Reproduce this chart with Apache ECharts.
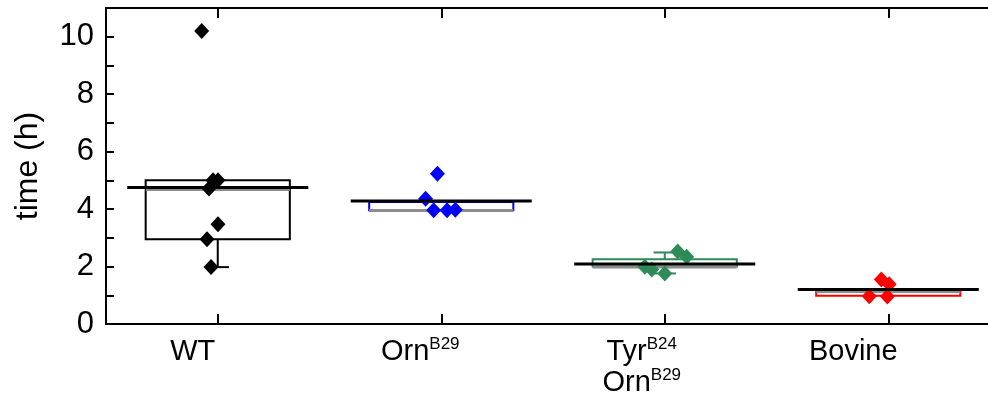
<!DOCTYPE html>
<html>
<head>
<meta charset="utf-8">
<script src="https://cdn.jsdelivr.net/npm/echarts@6/dist/echarts.min.js"></script>
<style>
html,body{margin:0;padding:0;background:#fff;}
#chart{width:988px;height:395px;}
</style>
</head>
<body>
<div id="chart"></div>
<script>
// ---- data ----
var categories = ['WT', 'Orn^B29', 'Tyr^B24\nOrn^B29', 'Bovine'];
var yTicks = [0, 2, 4, 6, 8, 10];

var wtValues     = [10.2, 5.0, 5.0, 4.72, 3.47, 2.95, 1.98];
var wtJitter     = [-0.072, -0.021, 0.001, -0.039, 0.001, -0.048, -0.030];
var ornValues    = [5.23, 4.36, 3.96, 3.96, 3.98];
var ornJitter    = [-0.017, -0.070, -0.034, 0.026, 0.063];
var tyrValues    = [2.52, 2.34, 1.99, 1.90, 1.76];
var tyrJitter    = [0.058, 0.098, -0.089, -0.058, 0.0];
var bovValues    = [1.55, 1.38, 0.97, 0.96];
var bovJitter    = [-0.031, 0.004, -0.085, -0.004];

// box stats: [whiskerLow, Q1, median, Q3, whiskerHigh]
var wtBox  = [1.98, 2.95, 4.72, 5.0, 5.0];
var ornBox = [3.96, 3.96, 3.99, 4.25, 4.25];
var tyrBox = [1.76, 2.0, 2.02, 2.25, 2.49];
var bovBox = [0.98, 0.98, 1.17, 1.18, 1.18];
var meanValues = [4.75, 4.28, 2.09, 1.2];

var groupColors = ['#000000', '#0000ff', '#2e8b57', '#ff0000'];
// label left-shift (px) per category, style only
var labelShift = [25, 21, 23, 35];

// ---- build ----
var FONT = 'Liberation Sans, Arial, sans-serif';
var groups = [
  {v: wtValues, j: wtJitter, b: wtBox},
  {v: ornValues, j: ornJitter, b: ornBox},
  {v: tyrValues, j: tyrJitter, b: tyrBox},
  {v: bovValues, j: bovJitter, b: bovBox}
];

var richStyles = {
  n: {fontSize: 29, lineHeight: 31, color: '#000', fontFamily: FONT},
  s: {fontSize: 17, lineHeight: 21, verticalAlign: 'top', color: '#000', fontFamily: FONT}
};
labelShift.forEach(function (sh, i) {
  richStyles['p' + i] = {width: sh * 2, fontSize: 10, lineHeight: 31};
});

function richLabel(s, idx) {
  return s.split('\n').map(function (line) {
    var parts = line.split('^');
    var out = '{n|' + parts[0] + '}';
    if (parts[1]) out += '{s|' + parts[1] + '}';
    out += '{p' + idx + '| }';
    return out;
  }).join('\n');
}

var boxData = groups.map(function (g, i) { return [i].concat(g.b); });
var meanData = meanValues.map(function (m, i) { return [i, m]; });

var scatterSeries = groups.map(function (g, i) {
  return {
    type: 'scatter',
    xAxisIndex: 2,
    symbol: 'diamond',
    symbolSize: [15, 16],
    itemStyle: {color: groupColors[i], opacity: 1},
    z: 3,
    silent: true,
    data: g.v.map(function (v, k) { return [i + g.j[k], v]; })
  };
});

var BOX_W = 0.645;
var CAP_W = 0.1;
var MEAN_W = 0.81;

function tickStyle(c) { return {show: true, inside: true, alignWithLabel: true, interval: 0, length: 10, lineStyle: {color: c, width: 2}}; }

var chart = echarts.init(document.getElementById('chart'), null, {renderer: 'canvas'});
var option = {
  animation: false,
  backgroundColor: '#ffffff',
  textStyle: {fontFamily: FONT},
  grid: {left: 106, top: 8, right: -12, bottom: 71, containLabel: false, outerBoundsMode: 'none'},
  xAxis: [
    {
      type: 'category',
      data: categories,
      position: 'bottom',
      z: 5,
      axisLine: {show: true, onZero: false, lineStyle: {color: '#000', width: 2}},
      axisTick: tickStyle('#000'),
      axisLabel: {
        margin: 12,
        interval: 0,
        color: '#000',
        formatter: function (v, idx) { return richLabel(v, idx); },
        rich: richStyles
      },
      splitLine: {show: false}
    },
    {
      type: 'category',
      data: categories,
      position: 'top',
      z: 5,
      axisLine: {show: true, onZero: false, lineStyle: {color: '#000', width: 2}},
      axisTick: tickStyle('#000'),
      axisLabel: {show: false},
      splitLine: {show: false}
    },
    {
      type: 'value',
      min: -0.5,
      max: 3.5,
      show: false
    }
  ],
  yAxis: {
    type: 'value',
    min: 0,
    max: 11,
    interval: 1,
    z: 5,
    name: 'time (h)',
    nameLocation: 'middle',
    nameGap: 62,
    nameTextStyle: {fontSize: 32, color: '#000', fontFamily: FONT},
    axisLine: {show: true, onZero: false, lineStyle: {color: '#000', width: 2}},
    axisTick: {show: true, inside: true, length: 8, lineStyle: {color: '#000', width: 2}},
    axisLabel: {
      fontSize: 31,
      color: '#000',
      margin: 12,
      formatter: function (v) { return yTicks.indexOf(v) >= 0 ? String(v) : ''; }
    },
    splitLine: {show: false}
  },
  series: [
    {
      type: 'custom',
      xAxisIndex: 2,
      z: 2,
      silent: true,
      data: boxData,
      renderItem: function (params, api) {
        var x = api.value(0);
        var col = groupColors[params.dataIndex];
        var wl = api.coord([x, api.value(1)]);
        var q1 = api.coord([x, api.value(2)]);
        var md = api.coord([x, api.value(3)]);
        var q3 = api.coord([x, api.value(4)]);
        var wh = api.coord([x, api.value(5)]);
        var bw = api.size([BOX_W, 0])[0];
        var cw = api.size([CAP_W, 0])[0];
        var cx = q1[0];
        var children = [];
        if (wl[1] > q1[1] + 0.5) {
          children.push({type: 'line', shape: {x1: cx, y1: q1[1], x2: cx, y2: wl[1]}, style: {stroke: col, lineWidth: 2}});
          children.push({type: 'line', shape: {x1: cx - cw / 2, y1: wl[1], x2: cx + cw / 2, y2: wl[1]}, style: {stroke: col, lineWidth: 2}});
        }
        if (wh[1] < q3[1] - 0.5) {
          children.push({type: 'line', shape: {x1: cx, y1: q3[1], x2: cx, y2: wh[1]}, style: {stroke: col, lineWidth: 2}});
          children.push({type: 'line', shape: {x1: cx - cw / 2, y1: wh[1], x2: cx + cw / 2, y2: wh[1]}, style: {stroke: col, lineWidth: 2}});
        }
        children.push({
          type: 'rect',
          shape: {x: cx - bw / 2, y: q3[1], width: bw, height: q1[1] - q3[1]},
          style: {fill: 'none', stroke: col, lineWidth: 2}
        });
        children.push({
          type: 'line',
          shape: {x1: cx - bw / 2, y1: md[1] + 1, x2: cx + bw / 2, y2: md[1] + 1},
          style: {stroke: '#8c8c8c', lineWidth: 3}
        });
        return {type: 'group', children: children};
      }
    }
  ].concat(scatterSeries).concat([
    {
      type: 'custom',
      xAxisIndex: 2,
      z: 4,
      silent: true,
      data: meanData,
      renderItem: function (params, api) {
        var p = api.coord([api.value(0), api.value(1)]);
        var w = api.size([MEAN_W, 0])[0];
        return {
          type: 'line',
          shape: {x1: p[0] - w / 2, y1: p[1], x2: p[0] + w / 2, y2: p[1]},
          style: {stroke: '#000', lineWidth: 3}
        };
      }
    }
  ])
};
chart.setOption(option);
</script>
</body>
</html>
